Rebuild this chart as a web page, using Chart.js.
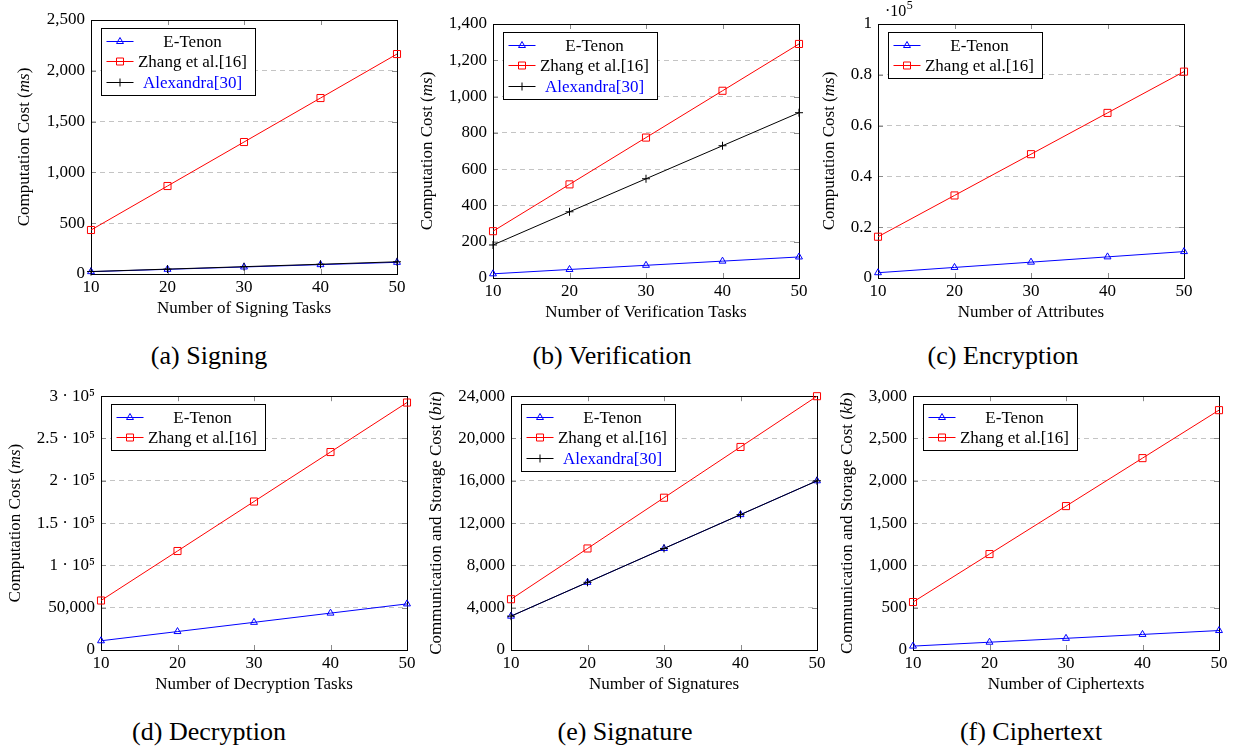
<!DOCTYPE html>
<html><head><meta charset="utf-8">
<script src="https://cdn.jsdelivr.net/npm/chart.js@4/dist/chart.umd.min.js"></script>
<style>
body{margin:0;background:#fff;}
#wrap{position:relative;width:1237px;height:749px;overflow:hidden;background:#fff;}
#wrap canvas{position:absolute;}
.cap{position:absolute;font-family:"Liberation Serif","Times New Roman",Times,"DejaVu Serif",serif;font-size:26px;color:#000;transform:translate(-50%,-50%);white-space:nowrap;line-height:30px;}
</style></head><body><div id="wrap"></div>
<script>
// ---------- data ----------
const xValues = [10, 20, 30, 40, 50];
const seriesNames = ['E-Tenon', 'Zhang et al.[16]', 'Alexandra[30]'];

// (a) Signing
const signETenon    = [23, 46, 69, 92, 115];
const signZhang     = [433, 866, 1299, 1732, 2165];
const signAlexandra = [24, 48, 72, 96, 120];
// (b) Verification
const verifyETenon    = [23, 47, 70, 93, 116];
const verifyZhang     = [258, 516, 774, 1032, 1290];
const verifyAlexandra = [182, 365, 547, 729, 911];
// (c) Encryption
const encETenon = [2080, 4160, 6240, 8320, 10400];
const encZhang  = [16250, 32500, 48750, 65000, 81250];
// (d) Decryption
const decETenon = [10900, 21800, 32700, 43600, 54500];
const decZhang  = [58500, 117000, 175500, 234000, 292500];
// (e) Signature
const sigETenon    = [3200, 6400, 9600, 12800, 16000];
const sigZhang     = [4800, 9600, 14400, 19200, 24000];
const sigAlexandra = [3200, 6400, 9600, 12800, 16000];
// (f) Ciphertext
const ctETenon = [46, 92, 138, 184, 230];
const ctZhang  = [567, 1134, 1701, 2268, 2835];

// tick labels
const encYTickLabels = ['0', '0.2', '0.4', '0.6', '0.8', '1'];
const decYTickLabels = ['0', '50,000', '1 · 10⁵', '1.5 · 10⁵', '2 · 10⁵', '2.5 · 10⁵', '3 · 10⁵'];

const xTitles = ['Number of Signing Tasks', 'Number of Verification Tasks', 'Number of Attributes',
                 'Number of Decryption Tasks', 'Number of Signatures', 'Number of Ciphertexts'];
const yTitleMain = ['Computation Cost (', 'Computation Cost (', 'Computation Cost (',
                    'Computation Cost (', 'Communication and Storage Cost (', 'Communication and Storage Cost ('];
const yTitleUnit = ['ms', 'ms', 'ms', 'ms', 'bit', 'kb'];
const captions = ['(a) Signing', '(b) Verification', '(c) Encryption', '(d) Decryption', '(e) Signature', '(f) Ciphertext'];
const yMax  = [2500, 1400, 100000, 300000, 24000, 3000];
const yStep = [500, 200, 20000, 50000, 4000, 500];

// ---------- layout (page px) ----------
const FONT = '"Liberation Serif", "Times New Roman", Times, "DejaVu Serif", serif';
const layouts = [
  {cell:[0, 0, 412, 330],    area:[91, 20, 397, 274],   yt:-66, cap:[209, 356]},
  {cell:[412, 0, 403, 330],  area:[493, 24, 799, 278],  yt:-65, cap:[612, 356]},
  {cell:[816, 0, 421, 330],  area:[878, 24, 1184, 278], yt:-48, cap:[1003, 356]},
  {cell:[0, 380, 422, 330],  area:[101, 396, 407, 650], yt:-85, cap:[209, 732]},
  {cell:[422, 380, 411, 330],area:[511, 396, 817, 650], yt:-74, cap:[625, 732]},
  {cell:[834, 380, 403, 330],area:[913, 396, 1219, 650],yt:-65, cap:[1031, 732]}
];

const styles = [
  {color:'#0000ff', point:'triangle', r:4, text:'#000', order:2},
  {color:'#ff0000', point:'rect', r:5, text:'#000', order:1},
  {color:'#000000', point:'cross', r:4, text:'#0000ff', order:0}
];

const chartSeries = [
  [signETenon, signZhang, signAlexandra],
  [verifyETenon, verifyZhang, verifyAlexandra],
  [encETenon, encZhang],
  [decETenon, decZhang],
  [sigETenon, sigZhang, sigAlexandra],
  [ctETenon, ctZhang]
];
const yTickLabelSets = [null, null, encYTickLabels, decYTickLabels, null, null];

Chart.defaults.font.family = FONT;
Chart.defaults.font.size = 17;
Chart.defaults.color = '#000';

function withCommas(v) {
  return String(Math.round(v)).replace(/\B(?=(\d{3})+(?!\d))/g, ',');
}

function drawMarker(ctx, kind, x, y, color) {
  ctx.save();
  ctx.strokeStyle = color; ctx.lineWidth = 1;
  ctx.beginPath();
  if (kind === 'triangle') {
    const r = 4;
    ctx.moveTo(x, y - r); ctx.lineTo(x - r * 0.866, y + r / 2); ctx.lineTo(x + r * 0.866, y + r / 2); ctx.closePath();
  } else if (kind === 'rect') {
    ctx.rect(x - 3.5, y - 3.5, 7, 7);
  } else {
    ctx.moveTo(x - 4, y); ctx.lineTo(x + 4, y); ctx.moveTo(x, y - 4); ctx.lineTo(x, y + 4);
  }
  ctx.stroke();
  ctx.restore();
}

function makePlugin(i) {
  return {
    id: 'deco' + i,
    beforeDatasetsDraw(chart) {
      const {ctx, chartArea: a, scales} = chart;
      ctx.save();
      ctx.strokeStyle = '#8a8a8a'; ctx.lineWidth = 1;
      ctx.beginPath();
      scales.x.ticks.forEach(t => {
        const px = Math.round(scales.x.getPixelForValue(t.value)) + 0.5;
        ctx.moveTo(px, a.top); ctx.lineTo(px, a.top + 5);
        ctx.moveTo(px, a.bottom); ctx.lineTo(px, a.bottom - 5);
      });
      scales.y.ticks.forEach(t => {
        const py = Math.round(scales.y.getPixelForValue(t.value)) + 0.5;
        ctx.moveTo(a.left, py); ctx.lineTo(a.left + 5, py);
        ctx.moveTo(a.right, py); ctx.lineTo(a.right - 5, py);
      });
      ctx.stroke();
      ctx.strokeStyle = '#000';
      ctx.strokeRect(Math.round(a.left) + 0.5, Math.round(a.top) + 0.5,
                     Math.round(a.right - a.left), Math.round(a.bottom - a.top));
      ctx.restore();
    },
    afterDraw(chart) {
      const {ctx, chartArea: a} = chart;
      const n = chartSeries[i].length;
      // legend
      const lx = Math.round(a.left) + 10.5, ly = Math.round(a.top) + 8.5, w = 154, rowH = 20.5;
      const h = Math.round(rowH * n + 5);
      ctx.save();
      ctx.fillStyle = '#fff'; ctx.fillRect(lx, ly, w, h);
      ctx.strokeStyle = '#000'; ctx.lineWidth = 1; ctx.strokeRect(lx, ly, w, h);
      ctx.font = '17px ' + FONT; ctx.textAlign = 'center'; ctx.textBaseline = 'middle';
      for (let k = 0; k < n; k++) {
        const cy = Math.round(ly + 12 + rowH * k) + 0.5;
        ctx.strokeStyle = styles[k].color;
        ctx.beginPath(); ctx.moveTo(lx + 5, cy); ctx.lineTo(lx + 32, cy); ctx.stroke();
        drawMarker(ctx, styles[k].point, lx + 18.5, cy, styles[k].color);
        ctx.fillStyle = styles[k].text;
        ctx.fillText(seriesNames[k], lx + 91, cy + 1);
      }
      // y title with italic unit
      const cx = a.left + layouts[i].yt, cyT = (a.top + a.bottom) / 2;
      ctx.translate(cx, cyT); ctx.rotate(-Math.PI / 2);
      const parts = [[yTitleMain[i], '17px '], [yTitleUnit[i], 'italic 17px '], [')', '17px ']];
      let total = 0;
      parts.forEach(p => { ctx.font = p[1] + FONT; total += ctx.measureText(p[0]).width; });
      let x = -total / 2;
      ctx.textAlign = 'left'; ctx.fillStyle = '#000';
      parts.forEach(p => { ctx.font = p[1] + FONT; ctx.fillText(p[0], x, 0); x += ctx.measureText(p[0]).width; });
      ctx.restore();
      // exponent marker for (c)
      if (i === 2) {
        ctx.save();
        ctx.fillStyle = '#000'; ctx.textBaseline = 'alphabetic'; ctx.textAlign = 'left';
        ctx.font = '16px ' + FONT;
        const ex = a.left + 7, ey = a.top - 8;
        ctx.fillText('·10', ex, ey);
        const ww = ctx.measureText('·10').width;
        ctx.font = '12px ' + FONT;
        ctx.fillText('5', ex + ww + 0.5, ey - 7);
        ctx.restore();
      }
    }
  };
}

const wrap = document.getElementById('wrap');
layouts.forEach((L, i) => {
  const [cl, ct, cw, ch] = L.cell;
  const [al, at, ar, ab] = L.area;
  const yW = al - cl, padTop = at - ct, padRight = (cl + cw) - ar, xH = (ct + ch) - ab;
  const cv = document.createElement('canvas');
  cv.width = cw; cv.height = ch;
  cv.style.left = cl + 'px'; cv.style.top = ct + 'px';
  cv.style.width = cw + 'px'; cv.style.height = ch + 'px';
  wrap.appendChild(cv);

  const cap = document.createElement('div');
  cap.className = 'cap'; cap.textContent = captions[i];
  cap.style.left = L.cap[0] + 'px'; cap.style.top = L.cap[1] + 'px';
  wrap.appendChild(cap);

  const datasets = chartSeries[i].map((vals, k) => ({
    label: seriesNames[k],
    data: xValues.map((xv, j) => ({x: xv, y: vals[j]})),
    order: styles[k].order,
    borderColor: styles[k].color,
    borderWidth: 1,
    pointStyle: styles[k].point,
    pointRadius: styles[k].r,
    pointHoverRadius: styles[k].r,
    pointBorderColor: styles[k].color,
    pointBackgroundColor: 'rgba(0,0,0,0)',
    pointBorderWidth: 1,
    tension: 0,
    clip: false
  }));
  const labels = yTickLabelSets[i];
  new Chart(cv, {
    type: 'line',
    data: {datasets},
    options: {
      responsive: false, animation: false, devicePixelRatio: 1,
      layout: {padding: {left: 0, top: padTop, right: padRight, bottom: 0}},
      plugins: {legend: {display: false}, tooltip: {enabled: false}},
      scales: {
        x: {
          type: 'linear', min: 10, max: 50,
          ticks: {stepSize: 10, padding: 3, maxRotation: 0, autoSkip: false,
                  callback: v => String(v)},
          grid: {display: false, drawTicks: false},
          border: {display: false},
          title: {display: true, text: xTitles[i], font: {size: 17, lineHeight: 1.2},
                  padding: {top: 0, bottom: xH - 35 - 10.2}},
          afterFit(s) { s.height = xH; }
        },
        y: {
          type: 'linear', min: 0, max: yMax[i],
          ticks: {stepSize: yStep[i], padding: 6,
                  callback: labels ? (v, idx) => labels[idx] : (v) => withCommas(v)},
          grid: {color: '#c4c4c4', lineWidth: 1, drawTicks: false},
          border: {display: false, dash: [5, 4]},
          afterFit(s) { s.width = yW; }
        }
      }
    },
    plugins: [makePlugin(i)]
  });
});
</script>
</body></html>
